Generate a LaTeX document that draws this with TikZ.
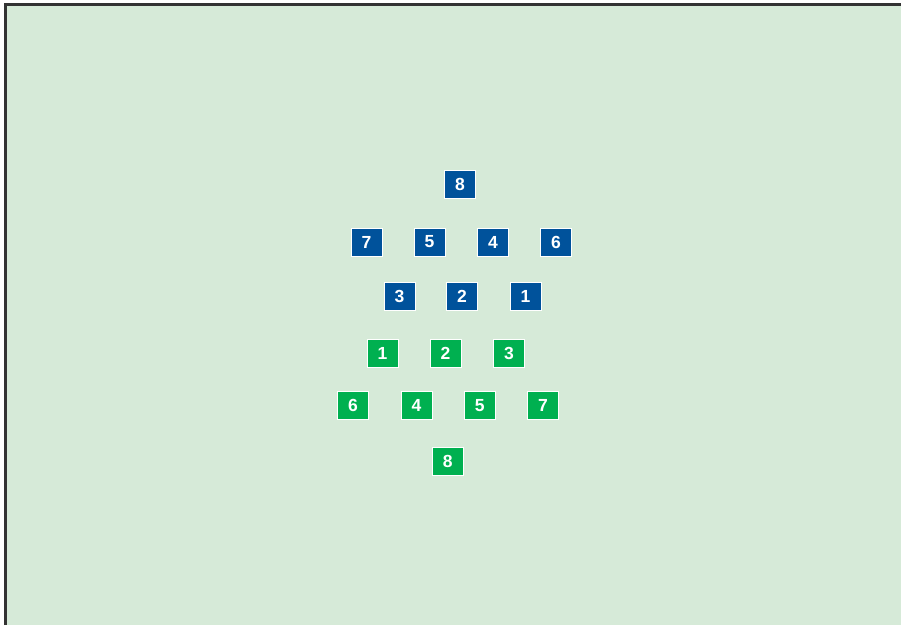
\documentclass[tikz,border=0pt]{standalone}
\usepackage{fontspec}
\setmainfont{Liberation Sans}
\definecolor{bg}{HTML}{D6EAD8}
\definecolor{bluebox}{HTML}{00529B}
\definecolor{greenbox}{HTML}{00B050}
\definecolor{frame}{HTML}{333333}
\tikzset{
  numbox/.style={draw=white, line width=1pt, minimum width=31pt, minimum height=28pt,
    inner sep=0pt, text=white, font=\fontsize{17.5}{17.5}\selectfont\bfseries},
  bbox/.style={numbox, fill=bluebox},
  gbox/.style={numbox, fill=greenbox}
}
\begin{document}
\begin{tikzpicture}[x=1pt,y=-1pt]
\useasboundingbox (0,0) rectangle (901,625);
\fill[white] (0,0) rectangle (901,625);
\fill[bg] (5.5,4.5) rectangle (901,625);
\draw[frame, line width=2.5pt] (5.5,625) -- (5.5,4.5) -- (901,4.5);
% blue
\node[bbox] (b8) at (460,184) {8};
\node[bbox] (b7) at (366.5,242) {7};
\node[bbox] (b5) at (429.5,242) {5};
\node[bbox] (b4) at (493,242) {4};
\node[bbox] (b6) at (556,242) {6};
\node[bbox] (b3) at (399.5,296) {3};
\node[bbox] (b2) at (462,296) {2};
\node[bbox] (b1) at (525.5,296) {1};
% green
\node[gbox] (g1) at (382.5,353) {1};
\node[gbox] (g2) at (445.6,353) {2};
\node[gbox] (g3) at (509,353) {3};
\node[gbox] (g6) at (353,405.5) {6};
\node[gbox] (g4) at (416.5,405.5) {4};
\node[gbox] (g5) at (479.7,405.5) {5};
\node[gbox] (g7) at (543,405.5) {7};
\node[gbox] (g8) at (447.7,461.5) {8};
\end{tikzpicture}
\end{document}
